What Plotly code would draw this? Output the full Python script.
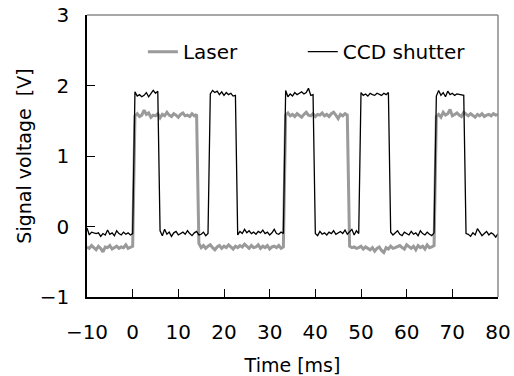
import plotly.graph_objects as go

# Sample times of the oscilloscope capture [ms]
time_ms = [
    -10.0, -9.5, -9.0, -8.5, -8.0, -7.5, -7.0, -6.5, -6.0, -5.5, -5.0, -4.5, -4.0, -3.5, -3.0, -2.5, -2.0, -1.5, -1.0, -0.5,
    0.0, 0.5, 1.0, 1.5, 2.0, 2.5, 3.0, 3.5, 4.0, 4.5, 5.0, 5.5, 6.0, 6.5, 7.0, 7.5, 8.0, 8.5, 9.0, 9.5,
    10.0, 10.5, 11.0, 11.5, 12.0, 12.5, 13.0, 13.5, 14.0, 14.5, 15.0, 15.5, 16.0, 16.5, 17.0, 17.5, 18.0, 18.5, 19.0, 19.5,
    20.0, 20.5, 21.0, 21.5, 22.0, 22.5, 23.0, 23.5, 24.0, 24.5, 25.0, 25.5, 26.0, 26.5, 27.0, 27.5, 28.0, 28.5, 29.0, 29.5,
    30.0, 30.5, 31.0, 31.5, 32.0, 32.5, 33.0, 33.5, 34.0, 34.5, 35.0, 35.5, 36.0, 36.5, 37.0, 37.5, 38.0, 38.5, 39.0, 39.5,
    40.0, 40.5, 41.0, 41.5, 42.0, 42.5, 43.0, 43.5, 44.0, 44.5, 45.0, 45.5, 46.0, 46.5, 47.0, 47.5, 48.0, 48.5, 49.0, 49.5,
    50.0, 50.5, 51.0, 51.5, 52.0, 52.5, 53.0, 53.5, 54.0, 54.5, 55.0, 55.5, 56.0, 56.5, 57.0, 57.5, 58.0, 58.5, 59.0, 59.5,
    60.0, 60.5, 61.0, 61.5, 62.0, 62.5, 63.0, 63.5, 64.0, 64.5, 65.0, 65.5, 66.0, 66.5, 67.0, 67.5, 68.0, 68.5, 69.0, 69.5,
    70.0, 70.5, 71.0, 71.5, 72.0, 72.5, 73.0, 73.5, 74.0, 74.5, 75.0, 75.5, 76.0, 76.5, 77.0, 77.5, 78.0, 78.5, 79.0, 79.5,
    80.0,
]

# Laser trigger signal [V]
laser_v = [
    -0.29, -0.31, -0.27, -0.30, -0.33, -0.28, -0.31, -0.36, -0.29, -0.30, -0.27, -0.32, -0.30, -0.28, -0.31, -0.29, -0.30, -0.26, -0.31, -0.29,
    -0.28, 1.57, 1.60, 1.56, 1.58, 1.65, 1.59, 1.61, 1.55, 1.58, 1.57, 1.60, 1.54, 1.59, 1.57, 1.62, 1.58, 1.56, 1.60, 1.58,
    1.55, 1.59, 1.61, 1.57, 1.58, 1.56, 1.60, 1.57, 1.59, -0.24, -0.30, -0.27, -0.31, -0.28, -0.26, -0.30, -0.33, -0.29, -0.27, -0.31,
    -0.28, -0.30, -0.26, -0.29, -0.32, -0.28, -0.30, -0.27, -0.29, -0.25, -0.28, -0.31, -0.27, -0.30, -0.29, -0.26, -0.31, -0.28, -0.30, -0.27,
    -0.32, -0.29, -0.28, -0.30, -0.27, -0.31, -0.29, 1.58, 1.61, 1.57, 1.59, 1.56, 1.60, 1.58, 1.55, 1.59, 1.62, 1.58, 1.57, 1.60,
    1.56, 1.59, 1.58, 1.61, 1.57, 1.59, 1.56, 1.60, 1.62, 1.58, 1.53, 1.59, 1.57, 1.60, 1.58, -0.28, -0.30, -0.29, -0.31, -0.30,
    -0.28, -0.32, -0.29, -0.31, -0.33, -0.30, -0.35, -0.31, -0.29, -0.34, -0.37, -0.30, -0.32, -0.28, -0.31, -0.30, -0.29, -0.27, -0.30, -0.32,
    -0.26, -0.29, -0.31, -0.28, -0.33, -0.27, -0.30, -0.28, -0.32, -0.26, -0.30, -0.29, -0.27, 1.56, 1.59, 1.55, 1.62, 1.58, 1.60, 1.66,
    1.57, 1.59, 1.61, 1.58, 1.56, 1.62, 1.59, 1.57, 1.60, 1.58, 1.55, 1.59, 1.57, 1.60, 1.56, 1.58, 1.59, 1.57, 1.60, 1.58,
    1.59,
]

# CCD shutter signal [V]
ccd_v = [
    -0.02, -0.12, -0.08, -0.09, -0.10, -0.09, -0.14, -0.10, -0.12, -0.05, -0.11, -0.09, -0.13, -0.06, -0.10, -0.12, -0.08, -0.11, -0.09, -0.12,
    -0.10, 1.91, 1.85, 1.87, 1.84, 1.86, 1.90, 1.84, 1.88, 1.93, 1.89, 1.92, -0.06, -0.13, -0.04, -0.11, -0.08, -0.14, -0.09, -0.07,
    -0.12, -0.10, -0.08, -0.11, -0.06, -0.10, -0.13, -0.09, -0.07, -0.12, -0.11, -0.08, -0.13, -0.10, 1.88, 1.93, 1.90, 1.92, 1.87, 1.91,
    1.86, 1.90, 1.87, 1.89, 1.85, 1.86, -0.12, -0.07, -0.10, -0.04, -0.09, -0.06, -0.10, -0.08, -0.11, -0.07, -0.09, -0.05, -0.10, -0.08,
    -0.12, -0.09, -0.04, -0.10, -0.11, -0.08, -0.10, 1.93, 1.84, 1.88, 1.85, 1.90, 1.87, 1.89, 1.91, 1.88, 1.90, 1.96, 1.86, 1.87,
    -0.10, -0.13, -0.07, -0.11, -0.09, -0.12, -0.08, -0.10, -0.06, -0.11, -0.09, -0.07, -0.10, -0.05, -0.11, -0.08, -0.04, -0.12, -0.06, -0.10,
    1.90, 1.86, 1.88, 1.85, 1.89, 1.87, 1.86, 1.89, 1.88, 1.86, 1.89, 1.87, 1.90, -0.08, -0.12, -0.09, -0.06, -0.11, -0.13, -0.08,
    -0.10, -0.12, -0.07, -0.11, -0.09, -0.13, -0.06, -0.10, -0.12, -0.08, -0.11, -0.13, -0.09, 1.85, 1.93, 1.86, 1.90, 1.84, 1.92, 1.87,
    1.89, 1.86, 1.88, 1.87, 1.87, 1.86, -0.10, -0.11, -0.14, -0.09, -0.12, -0.03, -0.08, -0.13, -0.10, -0.07, -0.12, -0.09, -0.11, -0.15,
    -0.10,
]

x_ticks = [-10, 0, 10, 20, 30, 40, 50, 60, 70, 80]
y_ticks = [-1, 0, 1, 2, 3]

FONT = "DejaVu Sans, Liberation Sans, sans-serif"

fig = go.Figure()
fig.add_trace(go.Scatter(
    x=time_ms, y=laser_v, mode="lines", name="Laser",
    line=dict(color="#9a9a9a", width=3), legend="legend",
))
fig.add_trace(go.Scatter(
    x=time_ms, y=ccd_v, mode="lines", name="CCD shutter",
    line=dict(color="#000000", width=1.3), legend="legend2",
))

axis_common = dict(
    showgrid=False, zeroline=False, showline=True, linecolor="#000000", linewidth=1.5,
    ticks="inside", ticklen=8, tickwidth=1, tickcolor="#000000",
    tickfont=dict(family=FONT, size=20, color="#000000"), mirror=False,
    automargin=False,
)

fig.update_xaxes(
    range=[-10, 80], tickvals=x_ticks, ticktext=[str(v).replace("-", "\u2212") for v in x_ticks],
    ticklabelstandoff=16,
    title=dict(text="Time [ms]", font=dict(family=FONT, size=19, color="#000000"), standoff=22),
    **axis_common,
)
fig.update_yaxes(
    range=[-1, 3], tickvals=y_ticks, ticktext=[str(v).replace("-", "\u2212") for v in y_ticks],
    ticklabelstandoff=12,
    title=dict(text="Signal voltage\u00a0\u00a0[V]", font=dict(family=FONT, size=19, color="#000000"), standoff=3),
    **axis_common,
)

# Light frame along the top and right edges of the plot area
fig.add_shape(type="line", xref="paper", yref="paper", x0=0, x1=1, y0=1, y1=1,
              line=dict(color="#8a8a8a", width=1.5))
fig.add_shape(type="line", xref="paper", yref="paper", x0=1, x1=1, y0=0, y1=1,
              line=dict(color="#8a8a8a", width=1.5))

legend_style = dict(
    orientation="h", bgcolor="rgba(0,0,0,0)", borderwidth=0,
    font=dict(family=FONT, size=20, color="#000000"),
    yanchor="middle", xanchor="left", itemwidth=30,
)

fig.update_layout(
    width=514, height=376,
    margin=dict(l=87, r=16, t=15, b=79, autoexpand=False),
    paper_bgcolor="#ffffff", plot_bgcolor="#ffffff",
    legend=dict(x=0.136, y=0.87, **legend_style),
    legend2=dict(x=0.525, y=0.87, **legend_style),
    showlegend=True,
)

fig.write_html("out.html")
